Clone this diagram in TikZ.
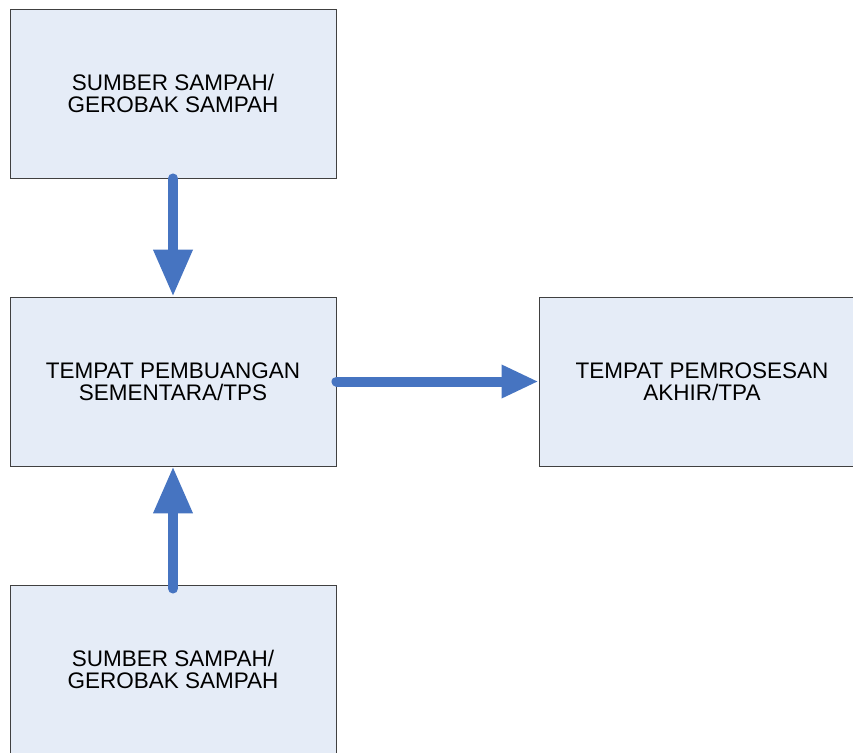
\documentclass[tikz,border=0pt]{standalone}
\usepackage{fontspec}
\setmainfont{Liberation Sans}
\usetikzlibrary{arrows.meta}
\definecolor{boxfill}{HTML}{E5ECF7}
\definecolor{boxline}{HTML}{404040}
\definecolor{flowblue}{HTML}{4674C1}
\begin{document}
\begin{tikzpicture}[x=1pt,y=-1pt,
  stage/.style={draw=boxline, line width=0.9pt, fill=boxfill,
    minimum width=326pt, minimum height=169pt, inner sep=0pt,
    align=center, font=\fontsize{22.5}{22}\selectfont},
  flowv/.style={draw=flowblue, line width=10pt, line cap=round,
    -{Triangle[width=37pt,length=47pt]}, flowblue},
  flowh/.style={draw=flowblue, line width=10pt, line cap=round,
    -{Triangle[width=31pt,length=37pt]}, flowblue}]
  \useasboundingbox (0,0) rectangle (853,752);
  \begin{scope}
    \clip (0,0) rectangle (853,752);
    \node[stage] (src1) at (173,93.5) {SUMBER SAMPAH/\\GEROBAK SAMPAH};
    \node[stage] (tps) at (173,381.5) {TEMPAT PEMBUANGAN\\SEMENTARA/TPS};
    \node[stage] (tpa) at (702,381.5) {TEMPAT PEMROSESAN\\AKHIR/TPA};
    \node[stage] (src2) at (173,669.5) {SUMBER SAMPAH/\\GEROBAK SAMPAH};
  \end{scope}
  \draw[flowv] (src1.south) -- (tps.north);
  \draw[flowv] ([yshift=-4pt]src2.north) -- (tps.south);
  \draw[flowh] (tps.east) -- (tpa.west);
\end{tikzpicture}
\end{document}
